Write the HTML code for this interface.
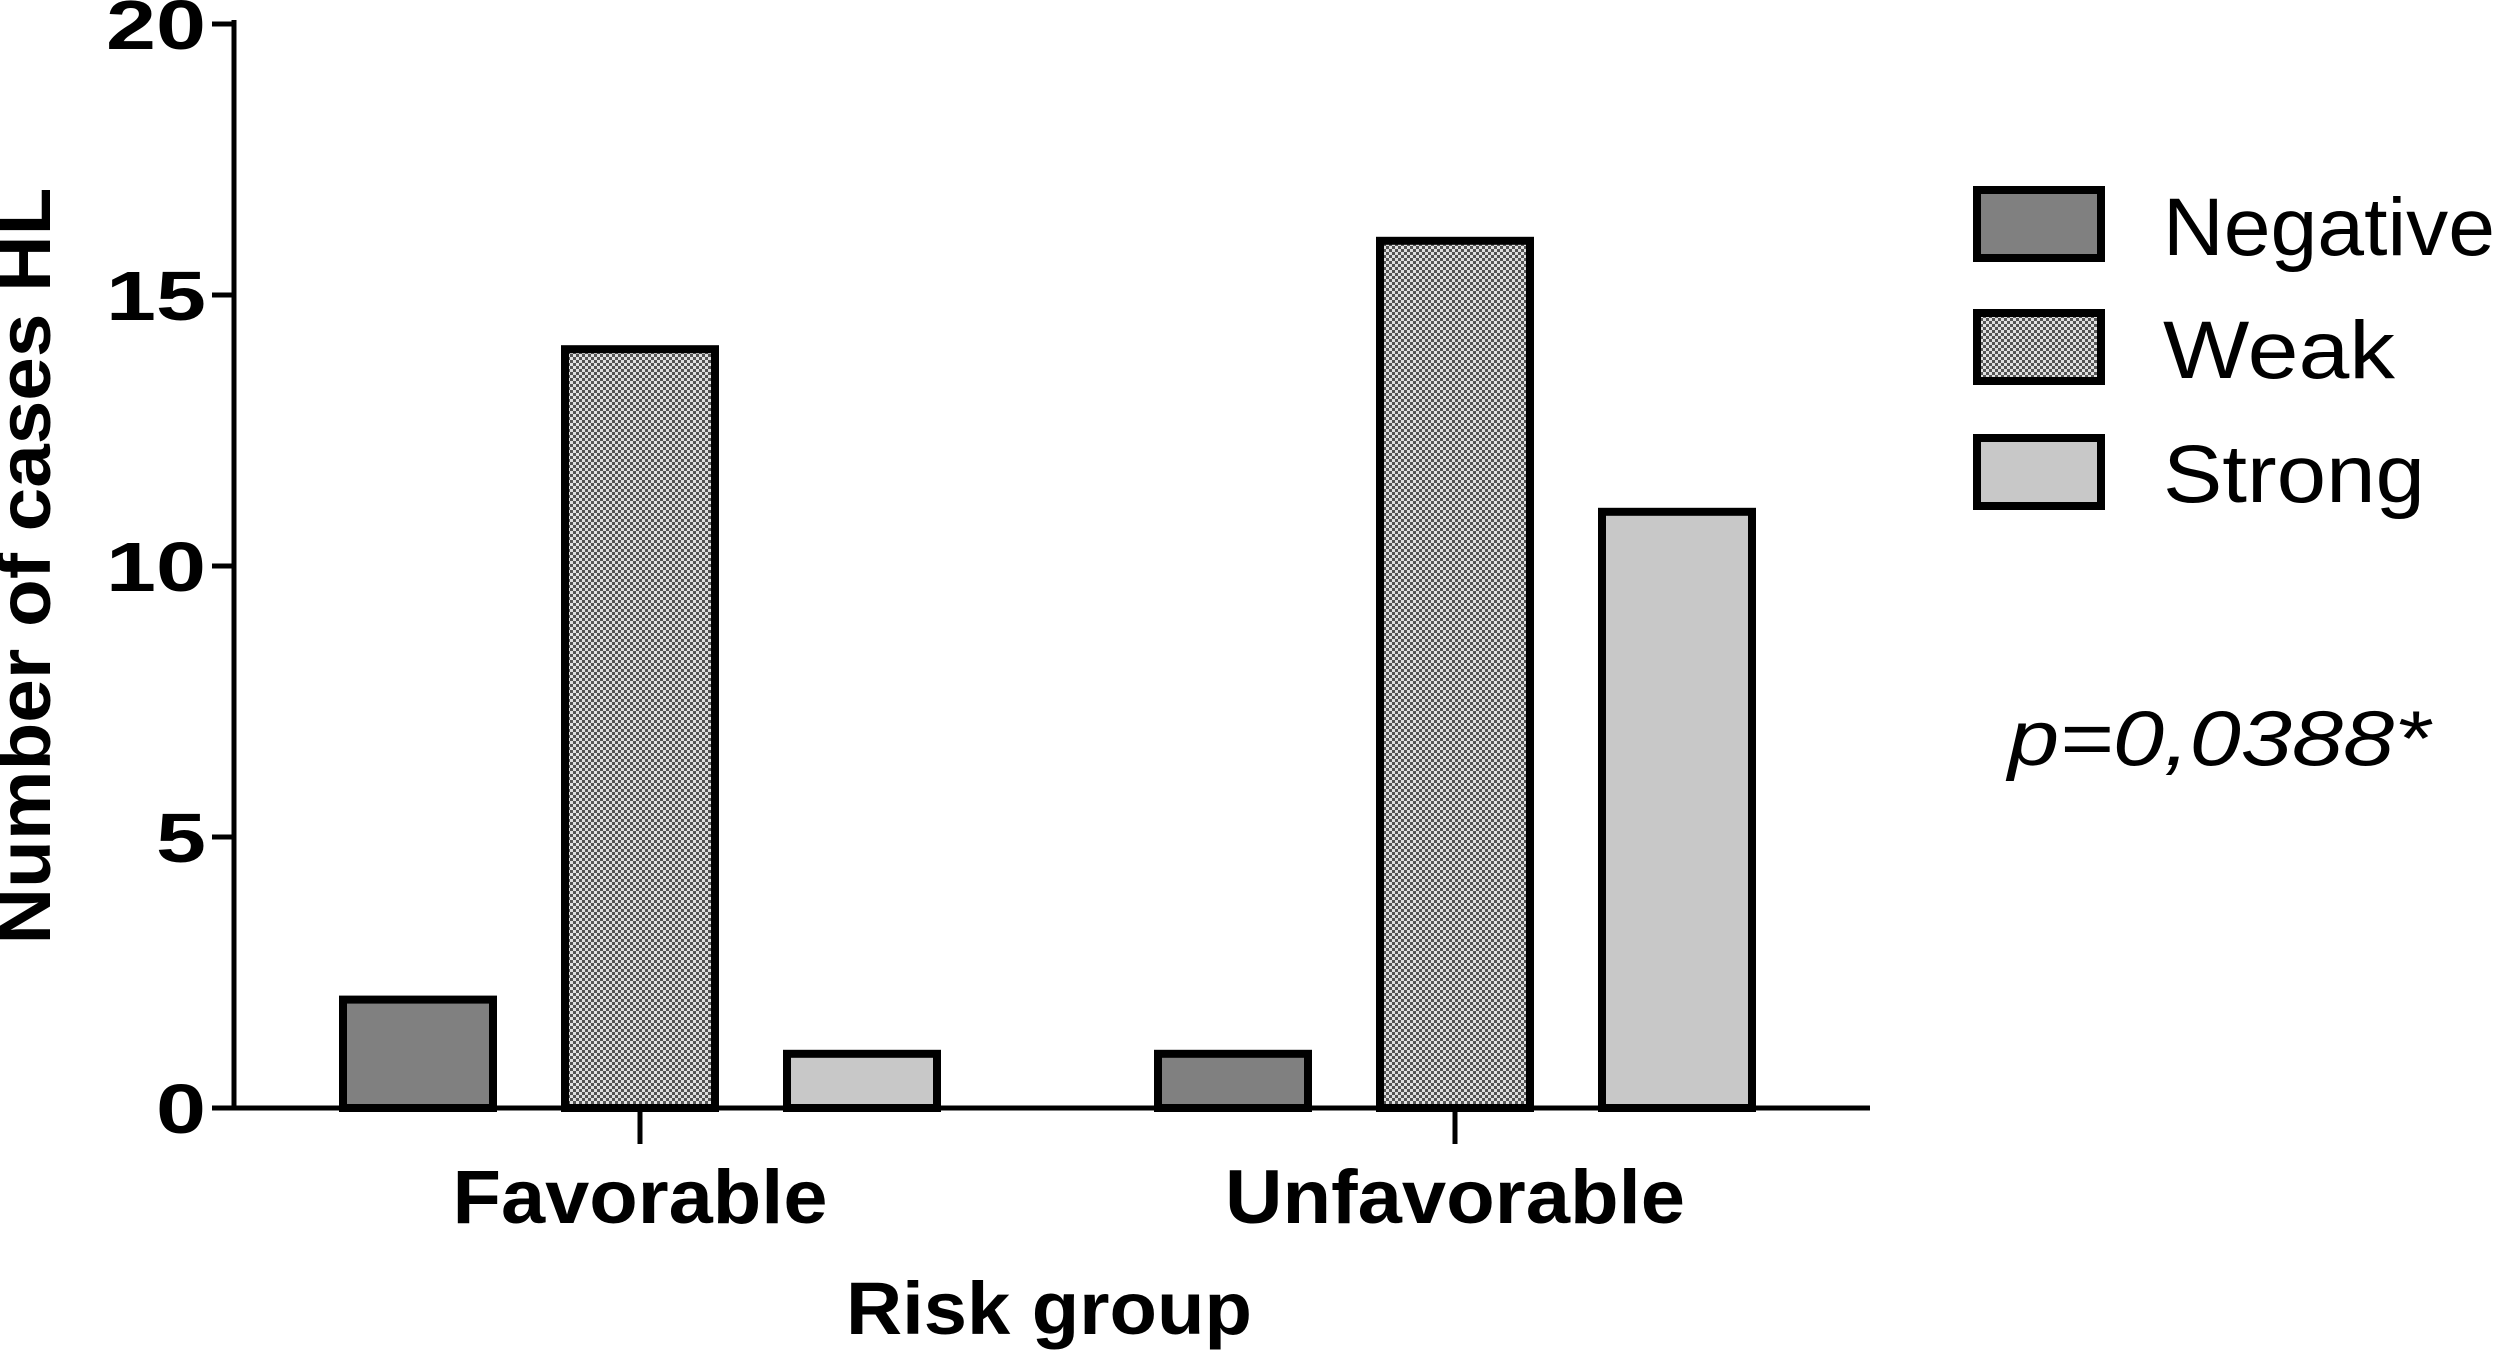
<!DOCTYPE html>
<html><head><meta charset="utf-8"><style>
body{margin:0;background:#fff}
svg{display:block}
text{font-family:"Liberation Sans",Arial,sans-serif;fill:#000}
</style></head><body>
<svg width="2500" height="1353" viewBox="0 0 2500 1353">
<defs>
<pattern id="dots" width="6" height="6" patternUnits="userSpaceOnUse">
<rect width="6" height="6" fill="#e0e0e0"/>
<rect width="3" height="3" fill="#555"/>
<rect x="3" y="3" width="3" height="3" fill="#555"/>
</pattern>
</defs>
<g id="plot"></g>
<g>
<rect x="1977" y="190" width="124" height="68" fill="#808080" stroke="#000" stroke-width="8"/>
<text x="2163" y="255" font-size="82" textLength="332" lengthAdjust="spacingAndGlyphs">Negative</text>
<rect x="1977" y="313" width="124" height="68" fill="url(#dots)" stroke="#000" stroke-width="8"/>
<text x="2163" y="378" font-size="82" textLength="232" lengthAdjust="spacingAndGlyphs">Weak</text>
<rect x="1977" y="438" width="124" height="68" fill="#c8c8c8" stroke="#000" stroke-width="8"/>
<text x="2163" y="502" font-size="82" textLength="262" lengthAdjust="spacingAndGlyphs">Strong</text>
</g>
<text x="2008" y="765" font-size="78" font-style="italic" textLength="422" lengthAdjust="spacingAndGlyphs">p=0,0388*</text>
<text x="1049" y="1334" font-size="74" font-weight="bold" text-anchor="middle" textLength="406" lengthAdjust="spacingAndGlyphs">Risk group</text>
<text transform="translate(50,566) rotate(-90)" font-size="74" font-weight="bold" text-anchor="middle" textLength="757" lengthAdjust="spacingAndGlyphs">Number of cases HL</text>
</svg>
<script>
const categories = ["Favorable","Unfavorable"];
const seriesNames = ["Negative","Weak","Strong"];
const negativeValues = [2,1];
const weakValues = [14,16];
const strongValues = [1,11];
const yTicks = [0,5,10,15,20];

const NS="http://www.w3.org/2000/svg";
const g=document.getElementById("plot");
const x0=234, x1=1870, yZero=1108, yTop=24, yMax=20;
const y=v=>yZero-(yZero-yTop)*v/yMax;
const groupCenters=[640,1455];
const catWidths=[375,460];
const barW=150, barGap=222;
const fills=["#808080","url(#dots)","#c8c8c8"];
const series=[negativeValues,weakValues,strongValues];
function mk(tag,attrs){const e=document.createElementNS(NS,tag);for(const k in attrs)e.setAttribute(k,attrs[k]);g.appendChild(e);return e;}
series.forEach((vals,s)=>{
  vals.forEach((v,c)=>{
    const cx=groupCenters[c]+(s-1)*barGap;
    const r=mk("rect",{x:cx-barW/2,y:y(v),width:barW,height:yZero-y(v),fill:fills[s],stroke:"#000","stroke-width":8});
    
    
  });
});
const ya=mk("line",{x1:x0,y1:yTop-4,x2:x0,y2:yZero,stroke:"#000","stroke-width":5});


const xa=mk("line",{x1:x0,y1:yZero,x2:x1,y2:yZero,stroke:"#000","stroke-width":5});


yTicks.forEach(t=>{
  mk("line",{x1:x0-22,y1:y(t),x2:x0,y2:y(t),stroke:"#000","stroke-width":5});
  const tx=mk("text",{x:x0-28,y:y(t)+25,"font-size":70,"font-weight":"bold","text-anchor":"end"});
  tx.setAttribute("textLength",String(t).length*50);
  tx.setAttribute("lengthAdjust","spacingAndGlyphs");
  tx.textContent=t;
  
  
});
categories.forEach((c,i)=>{
  mk("line",{x1:groupCenters[i],y1:yZero,x2:groupCenters[i],y2:yZero+36,stroke:"#000","stroke-width":5});
  const tx=mk("text",{x:groupCenters[i],y:1223,"font-size":76,"font-weight":"bold","text-anchor":"middle",textLength:catWidths[i],lengthAdjust:"spacingAndGlyphs"});
  tx.textContent=c;
  
  
});
</script>
</body></html>
